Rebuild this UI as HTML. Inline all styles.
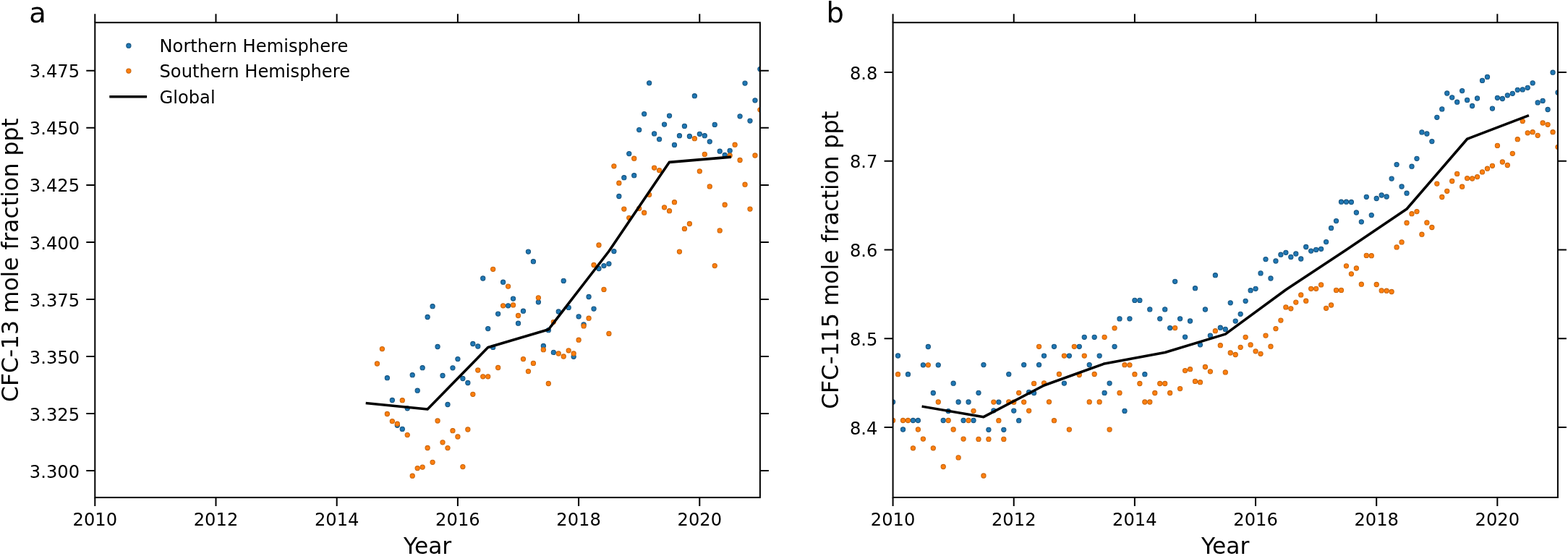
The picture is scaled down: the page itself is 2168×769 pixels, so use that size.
<!DOCTYPE html><html><head><meta charset="utf-8"><title>CFC-13 and CFC-115 mole fraction</title>
<style>html,body{margin:0;padding:0;background:#fff;}svg{display:block;}text{font-family:'DejaVu Sans', 'Liberation Sans', sans-serif;fill:#000;}</style></head><body>
<svg width="2168" height="769" viewBox="0 0 2168 769">
<rect x="0" y="0" width="2168" height="769" fill="#fff"/>
<defs>
<clipPath id="ca"><rect x="131.3" y="31.2" width="919.6" height="656.9"/></clipPath>
<clipPath id="cb"><rect x="1234.6" y="31.2" width="919.3" height="656.8"/></clipPath>
</defs>
<g clip-path="url(#ca)">
<g fill="#1f77b4" stroke="#17547f" stroke-width="1.1">
<circle cx="535.39" cy="522.7" r="3.1"/>
<circle cx="542.35" cy="553.5" r="3.1"/>
<circle cx="549.32" cy="588.3" r="3.1"/>
<circle cx="556.29" cy="593.4" r="3.1"/>
<circle cx="563.25" cy="564.8" r="3.1"/>
<circle cx="570.22" cy="518.7" r="3.1"/>
<circle cx="577.19" cy="540.2" r="3.1"/>
<circle cx="584.15" cy="508.7" r="3.1"/>
<circle cx="591.12" cy="438.5" r="3.1"/>
<circle cx="598.09" cy="423.7" r="3.1"/>
<circle cx="605.06" cy="479.5" r="3.1"/>
<circle cx="612.02" cy="519.5" r="3.1"/>
<circle cx="618.99" cy="559.5" r="3.1"/>
<circle cx="625.96" cy="508.8" r="3.1"/>
<circle cx="632.92" cy="496.6" r="3.1"/>
<circle cx="639.89" cy="523.5" r="3.1"/>
<circle cx="646.86" cy="529.5" r="3.1"/>
<circle cx="653.83" cy="475.5" r="3.1"/>
<circle cx="660.79" cy="479" r="3.1"/>
<circle cx="667.76" cy="385" r="3.1"/>
<circle cx="674.73" cy="454.6" r="3.1"/>
<circle cx="681.69" cy="480.4" r="3.1"/>
<circle cx="688.66" cy="434.1" r="3.1"/>
<circle cx="695.63" cy="390.2" r="3.1"/>
<circle cx="702.59" cy="422.8" r="3.1"/>
<circle cx="709.56" cy="413.1" r="3.1"/>
<circle cx="716.53" cy="447.2" r="3.1"/>
<circle cx="723.49" cy="430.2" r="3.1"/>
<circle cx="730.46" cy="348.1" r="3.1"/>
<circle cx="737.43" cy="361.7" r="3.1"/>
<circle cx="744.4" cy="417.8" r="3.1"/>
<circle cx="751.36" cy="478.5" r="3.1"/>
<circle cx="758.33" cy="456.7" r="3.1"/>
<circle cx="765.3" cy="487.4" r="3.1"/>
<circle cx="772.26" cy="431" r="3.1"/>
<circle cx="779.23" cy="388.4" r="3.1"/>
<circle cx="786.2" cy="425.4" r="3.1"/>
<circle cx="793.16" cy="493.3" r="3.1"/>
<circle cx="800.13" cy="437.8" r="3.1"/>
<circle cx="807.1" cy="448.9" r="3.1"/>
<circle cx="814.07" cy="410.5" r="3.1"/>
<circle cx="821.03" cy="427.1" r="3.1"/>
<circle cx="828" cy="371.5" r="3.1"/>
<circle cx="834.97" cy="367.6" r="3.1"/>
<circle cx="841.93" cy="364.8" r="3.1"/>
<circle cx="848.9" cy="347.6" r="3.1"/>
<circle cx="855.87" cy="271.5" r="3.1"/>
<circle cx="862.84" cy="245.7" r="3.1"/>
<circle cx="869.8" cy="212.6" r="3.1"/>
<circle cx="876.77" cy="242.7" r="3.1"/>
<circle cx="883.74" cy="179.6" r="3.1"/>
<circle cx="890.7" cy="157.6" r="3.1"/>
<circle cx="897.67" cy="114.8" r="3.1"/>
<circle cx="904.64" cy="184.9" r="3.1"/>
<circle cx="911.6" cy="192.6" r="3.1"/>
<circle cx="918.57" cy="172.1" r="3.1"/>
<circle cx="925.54" cy="160.1" r="3.1"/>
<circle cx="932.5" cy="200.4" r="3.1"/>
<circle cx="939.47" cy="187.7" r="3.1"/>
<circle cx="946.44" cy="174.4" r="3.1"/>
<circle cx="953.41" cy="188.5" r="3.1"/>
<circle cx="960.37" cy="132.7" r="3.1"/>
<circle cx="967.34" cy="185.3" r="3.1"/>
<circle cx="974.31" cy="187.7" r="3.1"/>
<circle cx="981.27" cy="195.8" r="3.1"/>
<circle cx="988.24" cy="172.4" r="3.1"/>
<circle cx="995.21" cy="209.2" r="3.1"/>
<circle cx="1002.17" cy="214.5" r="3.1"/>
<circle cx="1009.14" cy="208.4" r="3.1"/>
<circle cx="1023.08" cy="160.8" r="3.1"/>
<circle cx="1030.04" cy="115.1" r="3.1"/>
<circle cx="1037.01" cy="167.1" r="3.1"/>
<circle cx="1043.98" cy="138.8" r="3.1"/>
<circle cx="1050.94" cy="95.6" r="3.1"/>
</g><g fill="#ff7f0e" stroke="#c9650b" stroke-width="1.1">
<circle cx="521.45" cy="503" r="3.1"/>
<circle cx="528.42" cy="482.6" r="3.1"/>
<circle cx="535.39" cy="572.5" r="3.1"/>
<circle cx="542.35" cy="582.6" r="3.1"/>
<circle cx="549.32" cy="586.2" r="3.1"/>
<circle cx="556.29" cy="553.7" r="3.1"/>
<circle cx="563.25" cy="601.6" r="3.1"/>
<circle cx="570.22" cy="658.2" r="3.1"/>
<circle cx="577.19" cy="647.6" r="3.1"/>
<circle cx="584.15" cy="646.1" r="3.1"/>
<circle cx="591.12" cy="619.5" r="3.1"/>
<circle cx="598.09" cy="639.3" r="3.1"/>
<circle cx="605.06" cy="582" r="3.1"/>
<circle cx="612.02" cy="611.8" r="3.1"/>
<circle cx="618.99" cy="619.6" r="3.1"/>
<circle cx="625.96" cy="595.7" r="3.1"/>
<circle cx="632.92" cy="604" r="3.1"/>
<circle cx="639.89" cy="645.6" r="3.1"/>
<circle cx="646.86" cy="594" r="3.1"/>
<circle cx="653.83" cy="545.3" r="3.1"/>
<circle cx="660.79" cy="512" r="3.1"/>
<circle cx="667.76" cy="520.8" r="3.1"/>
<circle cx="674.73" cy="520.8" r="3.1"/>
<circle cx="681.69" cy="372.3" r="3.1"/>
<circle cx="688.66" cy="508.5" r="3.1"/>
<circle cx="695.63" cy="422.8" r="3.1"/>
<circle cx="702.59" cy="396.1" r="3.1"/>
<circle cx="709.56" cy="421.9" r="3.1"/>
<circle cx="716.53" cy="436.5" r="3.1"/>
<circle cx="723.49" cy="496.6" r="3.1"/>
<circle cx="730.46" cy="513.6" r="3.1"/>
<circle cx="737.43" cy="502.4" r="3.1"/>
<circle cx="744.4" cy="411.8" r="3.1"/>
<circle cx="751.36" cy="483.7" r="3.1"/>
<circle cx="758.33" cy="530.5" r="3.1"/>
<circle cx="765.3" cy="445.3" r="3.1"/>
<circle cx="772.26" cy="489" r="3.1"/>
<circle cx="779.23" cy="493" r="3.1"/>
<circle cx="786.2" cy="484.8" r="3.1"/>
<circle cx="793.16" cy="489" r="3.1"/>
<circle cx="800.13" cy="470.2" r="3.1"/>
<circle cx="807.1" cy="450.9" r="3.1"/>
<circle cx="814.07" cy="440.2" r="3.1"/>
<circle cx="821.03" cy="366.5" r="3.1"/>
<circle cx="828" cy="339" r="3.1"/>
<circle cx="834.97" cy="400.4" r="3.1"/>
<circle cx="841.93" cy="461.4" r="3.1"/>
<circle cx="848.9" cy="229.8" r="3.1"/>
<circle cx="855.87" cy="253.2" r="3.1"/>
<circle cx="862.84" cy="289.1" r="3.1"/>
<circle cx="869.8" cy="301.3" r="3.1"/>
<circle cx="876.77" cy="219.2" r="3.1"/>
<circle cx="883.74" cy="288.3" r="3.1"/>
<circle cx="890.7" cy="294.2" r="3.1"/>
<circle cx="897.67" cy="269.3" r="3.1"/>
<circle cx="904.64" cy="232.1" r="3.1"/>
<circle cx="911.6" cy="235.6" r="3.1"/>
<circle cx="918.57" cy="286.8" r="3.1"/>
<circle cx="925.54" cy="291.7" r="3.1"/>
<circle cx="932.5" cy="279.7" r="3.1"/>
<circle cx="939.47" cy="348.1" r="3.1"/>
<circle cx="946.44" cy="316.4" r="3.1"/>
<circle cx="953.41" cy="309.5" r="3.1"/>
<circle cx="960.37" cy="191.7" r="3.1"/>
<circle cx="967.34" cy="236.8" r="3.1"/>
<circle cx="974.31" cy="213.4" r="3.1"/>
<circle cx="981.27" cy="257.9" r="3.1"/>
<circle cx="988.24" cy="367.6" r="3.1"/>
<circle cx="995.21" cy="318.9" r="3.1"/>
<circle cx="1002.17" cy="283.2" r="3.1"/>
<circle cx="1009.14" cy="215" r="3.1"/>
<circle cx="1016.11" cy="200.2" r="3.1"/>
<circle cx="1023.08" cy="221.5" r="3.1"/>
<circle cx="1030.04" cy="255.2" r="3.1"/>
<circle cx="1037.01" cy="289.1" r="3.1"/>
<circle cx="1043.98" cy="215" r="3.1"/>
<circle cx="1050.94" cy="151.8" r="3.1"/>
</g>
<polyline points="507.5,557.7 591.1,566 674.7,480.6 758.3,455.8 841.9,347.5 925.3,224.4 1009.1,217.3" fill="none" stroke="#000" stroke-width="3.6" stroke-linecap="square" stroke-linejoin="round"/>
</g>
<rect x="131.3" y="31.2" width="919.6" height="656.9" fill="none" stroke="#000" stroke-width="2.0"/>
<path d="M131.3 688.1v12M131.3 31.2v-12M298.5 688.1v12M298.5 31.2v-12M465.7 688.1v12M465.7 31.2v-12M632.9 688.1v12M632.9 31.2v-12M800.1 688.1v12M800.1 31.2v-12M967.3 688.1v12M967.3 31.2v-12M131.3 97.8h-12M1050.9 97.8h12M131.3 176.84h-12M1050.9 176.84h12M131.3 255.88h-12M1050.9 255.88h12M131.3 334.92h-12M1050.9 334.92h12M131.3 413.96h-12M1050.9 413.96h12M131.3 493h-12M1050.9 493h12M131.3 572.04h-12M1050.9 572.04h12M131.3 651.08h-12M1050.9 651.08h12" stroke="#000" stroke-width="2.0" fill="none"/>
<text x="131.3" y="726.9" font-size="24.2" text-anchor="middle">2010</text>
<text x="298.5" y="726.9" font-size="24.2" text-anchor="middle">2012</text>
<text x="465.7" y="726.9" font-size="24.2" text-anchor="middle">2014</text>
<text x="632.9" y="726.9" font-size="24.2" text-anchor="middle">2016</text>
<text x="800.1" y="726.9" font-size="24.2" text-anchor="middle">2018</text>
<text x="967.3" y="726.9" font-size="24.2" text-anchor="middle">2020</text>
<text x="110.1" y="107.4" font-size="24.2" text-anchor="end">3.475</text>
<text x="110.1" y="186.44" font-size="24.2" text-anchor="end">3.450</text>
<text x="110.1" y="265.48" font-size="24.2" text-anchor="end">3.425</text>
<text x="110.1" y="344.52" font-size="24.2" text-anchor="end">3.400</text>
<text x="110.1" y="423.56" font-size="24.2" text-anchor="end">3.375</text>
<text x="110.1" y="502.6" font-size="24.2" text-anchor="end">3.350</text>
<text x="110.1" y="581.64" font-size="24.2" text-anchor="end">3.325</text>
<text x="110.1" y="660.68" font-size="24.2" text-anchor="end">3.300</text>
<text x="591.1" y="765.5" font-size="31.3" text-anchor="middle">Year</text>
<text x="24.7" y="359.65" font-size="31.3" text-anchor="middle" transform="rotate(-90 24.7 359.65)">CFC-13 mole fraction ppt</text>
<text x="40.3" y="31.25" font-size="38.5">a</text>
<g clip-path="url(#cb)">
<g fill="#1f77b4" stroke="#17547f" stroke-width="1.1">
<circle cx="1234.6" cy="556" r="3.1"/>
<circle cx="1241.56" cy="492" r="3.1"/>
<circle cx="1248.53" cy="594" r="3.1"/>
<circle cx="1255.49" cy="517.7" r="3.1"/>
<circle cx="1262.46" cy="581.5" r="3.1"/>
<circle cx="1269.42" cy="581.5" r="3.1"/>
<circle cx="1276.39" cy="504.8" r="3.1"/>
<circle cx="1283.36" cy="479.5" r="3.1"/>
<circle cx="1290.32" cy="543.5" r="3.1"/>
<circle cx="1297.28" cy="504.8" r="3.1"/>
<circle cx="1304.25" cy="581.5" r="3.1"/>
<circle cx="1311.21" cy="568.6" r="3.1"/>
<circle cx="1318.18" cy="530.2" r="3.1"/>
<circle cx="1325.14" cy="556" r="3.1"/>
<circle cx="1332.11" cy="581.5" r="3.1"/>
<circle cx="1339.07" cy="556" r="3.1"/>
<circle cx="1346.04" cy="581.5" r="3.1"/>
<circle cx="1353" cy="543.3" r="3.1"/>
<circle cx="1359.97" cy="504.6" r="3.1"/>
<circle cx="1366.93" cy="594.3" r="3.1"/>
<circle cx="1373.9" cy="567.8" r="3.1"/>
<circle cx="1380.86" cy="556.1" r="3.1"/>
<circle cx="1387.83" cy="594.3" r="3.1"/>
<circle cx="1394.79" cy="517.6" r="3.1"/>
<circle cx="1401.76" cy="568.1" r="3.1"/>
<circle cx="1408.72" cy="581.7" r="3.1"/>
<circle cx="1415.69" cy="504.6" r="3.1"/>
<circle cx="1422.65" cy="542.4" r="3.1"/>
<circle cx="1429.62" cy="543.6" r="3.1"/>
<circle cx="1436.58" cy="504.6" r="3.1"/>
<circle cx="1443.55" cy="492.1" r="3.1"/>
<circle cx="1457.48" cy="479.3" r="3.1"/>
<circle cx="1471.41" cy="530.1" r="3.1"/>
<circle cx="1478.38" cy="492.1" r="3.1"/>
<circle cx="1492.3" cy="479.3" r="3.1"/>
<circle cx="1499.27" cy="466.3" r="3.1"/>
<circle cx="1506.23" cy="504.6" r="3.1"/>
<circle cx="1513.2" cy="466.3" r="3.1"/>
<circle cx="1520.16" cy="492.1" r="3.1"/>
<circle cx="1527.13" cy="543.4" r="3.1"/>
<circle cx="1534.09" cy="530.1" r="3.1"/>
<circle cx="1541.06" cy="479.3" r="3.1"/>
<circle cx="1548.02" cy="440.9" r="3.1"/>
<circle cx="1554.99" cy="568.4" r="3.1"/>
<circle cx="1561.95" cy="440.8" r="3.1"/>
<circle cx="1568.92" cy="415.4" r="3.1"/>
<circle cx="1575.88" cy="415.4" r="3.1"/>
<circle cx="1582.85" cy="517.7" r="3.1"/>
<circle cx="1589.81" cy="427.9" r="3.1"/>
<circle cx="1603.74" cy="440.8" r="3.1"/>
<circle cx="1610.71" cy="427.9" r="3.1"/>
<circle cx="1617.67" cy="453.6" r="3.1"/>
<circle cx="1624.64" cy="389.3" r="3.1"/>
<circle cx="1631.61" cy="440.8" r="3.1"/>
<circle cx="1638.57" cy="466.1" r="3.1"/>
<circle cx="1645.53" cy="444" r="3.1"/>
<circle cx="1652.5" cy="398.7" r="3.1"/>
<circle cx="1659.46" cy="476.8" r="3.1"/>
<circle cx="1666.43" cy="428" r="3.1"/>
<circle cx="1673.39" cy="464.1" r="3.1"/>
<circle cx="1680.36" cy="380.7" r="3.1"/>
<circle cx="1687.32" cy="453.2" r="3.1"/>
<circle cx="1694.29" cy="455.4" r="3.1"/>
<circle cx="1701.25" cy="418.8" r="3.1"/>
<circle cx="1708.22" cy="444.1" r="3.1"/>
<circle cx="1715.18" cy="434.3" r="3.1"/>
<circle cx="1722.15" cy="416.3" r="3.1"/>
<circle cx="1729.11" cy="401.7" r="3.1"/>
<circle cx="1736.08" cy="399.3" r="3.1"/>
<circle cx="1743.04" cy="377.9" r="3.1"/>
<circle cx="1750.01" cy="358.6" r="3.1"/>
<circle cx="1756.97" cy="385" r="3.1"/>
<circle cx="1763.94" cy="361" r="3.1"/>
<circle cx="1770.9" cy="352.2" r="3.1"/>
<circle cx="1777.87" cy="349.3" r="3.1"/>
<circle cx="1784.84" cy="355.4" r="3.1"/>
<circle cx="1791.8" cy="351" r="3.1"/>
<circle cx="1798.76" cy="358" r="3.1"/>
<circle cx="1805.73" cy="341.5" r="3.1"/>
<circle cx="1812.69" cy="347.1" r="3.1"/>
<circle cx="1819.66" cy="345.4" r="3.1"/>
<circle cx="1826.62" cy="344.3" r="3.1"/>
<circle cx="1833.59" cy="334.6" r="3.1"/>
<circle cx="1840.55" cy="315.4" r="3.1"/>
<circle cx="1847.52" cy="305.6" r="3.1"/>
<circle cx="1854.48" cy="279.2" r="3.1"/>
<circle cx="1861.45" cy="279.2" r="3.1"/>
<circle cx="1868.41" cy="279.5" r="3.1"/>
<circle cx="1875.38" cy="294" r="3.1"/>
<circle cx="1882.34" cy="306.8" r="3.1"/>
<circle cx="1889.31" cy="272.3" r="3.1"/>
<circle cx="1896.27" cy="297.6" r="3.1"/>
<circle cx="1903.24" cy="274.5" r="3.1"/>
<circle cx="1910.2" cy="270" r="3.1"/>
<circle cx="1917.17" cy="272" r="3.1"/>
<circle cx="1924.13" cy="247.1" r="3.1"/>
<circle cx="1931.1" cy="227.6" r="3.1"/>
<circle cx="1938.07" cy="258" r="3.1"/>
<circle cx="1945.03" cy="267.2" r="3.1"/>
<circle cx="1951.99" cy="230.2" r="3.1"/>
<circle cx="1958.96" cy="219.3" r="3.1"/>
<circle cx="1965.92" cy="182.9" r="3.1"/>
<circle cx="1972.89" cy="185" r="3.1"/>
<circle cx="1979.86" cy="195.6" r="3.1"/>
<circle cx="1986.82" cy="162.3" r="3.1"/>
<circle cx="1993.78" cy="150.9" r="3.1"/>
<circle cx="2000.75" cy="129" r="3.1"/>
<circle cx="2007.71" cy="134.8" r="3.1"/>
<circle cx="2014.68" cy="141.2" r="3.1"/>
<circle cx="2021.64" cy="125.6" r="3.1"/>
<circle cx="2028.61" cy="138.4" r="3.1"/>
<circle cx="2035.57" cy="146.5" r="3.1"/>
<circle cx="2042.54" cy="136" r="3.1"/>
<circle cx="2049.51" cy="111.4" r="3.1"/>
<circle cx="2056.47" cy="106.4" r="3.1"/>
<circle cx="2063.43" cy="150.1" r="3.1"/>
<circle cx="2070.4" cy="135.3" r="3.1"/>
<circle cx="2077.36" cy="136.5" r="3.1"/>
<circle cx="2084.33" cy="131.8" r="3.1"/>
<circle cx="2091.3" cy="129.3" r="3.1"/>
<circle cx="2098.26" cy="124.3" r="3.1"/>
<circle cx="2105.22" cy="123.9" r="3.1"/>
<circle cx="2112.19" cy="121.3" r="3.1"/>
<circle cx="2119.15" cy="114.8" r="3.1"/>
<circle cx="2126.12" cy="141.9" r="3.1"/>
<circle cx="2133.09" cy="139.4" r="3.1"/>
<circle cx="2140.05" cy="151.5" r="3.1"/>
<circle cx="2147.01" cy="100.2" r="3.1"/>
<circle cx="2153.98" cy="127.9" r="3.1"/>
</g><g fill="#ff7f0e" stroke="#c9650b" stroke-width="1.1">
<circle cx="1234.6" cy="581.5" r="3.1"/>
<circle cx="1241.56" cy="517.7" r="3.1"/>
<circle cx="1248.53" cy="581.5" r="3.1"/>
<circle cx="1255.49" cy="581.5" r="3.1"/>
<circle cx="1262.46" cy="619.8" r="3.1"/>
<circle cx="1269.42" cy="594" r="3.1"/>
<circle cx="1276.39" cy="607.1" r="3.1"/>
<circle cx="1283.36" cy="504.8" r="3.1"/>
<circle cx="1290.32" cy="619.8" r="3.1"/>
<circle cx="1297.28" cy="556" r="3.1"/>
<circle cx="1304.25" cy="645.5" r="3.1"/>
<circle cx="1311.21" cy="581.5" r="3.1"/>
<circle cx="1318.18" cy="594" r="3.1"/>
<circle cx="1325.14" cy="632.9" r="3.1"/>
<circle cx="1332.11" cy="607.1" r="3.1"/>
<circle cx="1339.07" cy="581.5" r="3.1"/>
<circle cx="1346.04" cy="568.3" r="3.1"/>
<circle cx="1353" cy="607.4" r="3.1"/>
<circle cx="1359.97" cy="658" r="3.1"/>
<circle cx="1366.93" cy="607.4" r="3.1"/>
<circle cx="1373.9" cy="556.1" r="3.1"/>
<circle cx="1380.86" cy="581.7" r="3.1"/>
<circle cx="1387.83" cy="607.4" r="3.1"/>
<circle cx="1394.79" cy="555.8" r="3.1"/>
<circle cx="1401.76" cy="556.2" r="3.1"/>
<circle cx="1408.72" cy="543.3" r="3.1"/>
<circle cx="1415.69" cy="556.1" r="3.1"/>
<circle cx="1422.65" cy="568.1" r="3.1"/>
<circle cx="1429.62" cy="530.4" r="3.1"/>
<circle cx="1436.58" cy="479.3" r="3.1"/>
<circle cx="1443.55" cy="529.9" r="3.1"/>
<circle cx="1450.51" cy="555.8" r="3.1"/>
<circle cx="1457.48" cy="581.7" r="3.1"/>
<circle cx="1464.44" cy="517.5" r="3.1"/>
<circle cx="1471.41" cy="492.1" r="3.1"/>
<circle cx="1478.38" cy="594.1" r="3.1"/>
<circle cx="1485.34" cy="479.3" r="3.1"/>
<circle cx="1492.3" cy="518.5" r="3.1"/>
<circle cx="1499.27" cy="492.1" r="3.1"/>
<circle cx="1506.23" cy="555.9" r="3.1"/>
<circle cx="1513.2" cy="517.5" r="3.1"/>
<circle cx="1520.16" cy="555.9" r="3.1"/>
<circle cx="1527.13" cy="466.3" r="3.1"/>
<circle cx="1534.09" cy="594.1" r="3.1"/>
<circle cx="1541.06" cy="453.8" r="3.1"/>
<circle cx="1548.02" cy="543.4" r="3.1"/>
<circle cx="1554.99" cy="504.7" r="3.1"/>
<circle cx="1561.95" cy="504.8" r="3.1"/>
<circle cx="1568.92" cy="517.7" r="3.1"/>
<circle cx="1575.88" cy="530.5" r="3.1"/>
<circle cx="1582.85" cy="556" r="3.1"/>
<circle cx="1589.81" cy="556" r="3.1"/>
<circle cx="1596.78" cy="543.5" r="3.1"/>
<circle cx="1603.74" cy="530.5" r="3.1"/>
<circle cx="1610.71" cy="530.5" r="3.1"/>
<circle cx="1617.67" cy="543.5" r="3.1"/>
<circle cx="1624.64" cy="453.6" r="3.1"/>
<circle cx="1631.61" cy="537.6" r="3.1"/>
<circle cx="1638.57" cy="512.6" r="3.1"/>
<circle cx="1645.53" cy="510.7" r="3.1"/>
<circle cx="1652.5" cy="527.4" r="3.1"/>
<circle cx="1659.46" cy="528.7" r="3.1"/>
<circle cx="1666.43" cy="507.5" r="3.1"/>
<circle cx="1673.39" cy="513.8" r="3.1"/>
<circle cx="1680.36" cy="457.7" r="3.1"/>
<circle cx="1687.32" cy="477.7" r="3.1"/>
<circle cx="1694.29" cy="514.9" r="3.1"/>
<circle cx="1701.25" cy="488" r="3.1"/>
<circle cx="1708.22" cy="490.5" r="3.1"/>
<circle cx="1715.18" cy="480.3" r="3.1"/>
<circle cx="1722.15" cy="466.3" r="3.1"/>
<circle cx="1729.11" cy="476.9" r="3.1"/>
<circle cx="1736.08" cy="485.8" r="3.1"/>
<circle cx="1743.04" cy="489.3" r="3.1"/>
<circle cx="1750.01" cy="464.1" r="3.1"/>
<circle cx="1756.97" cy="479.2" r="3.1"/>
<circle cx="1763.94" cy="454.6" r="3.1"/>
<circle cx="1770.9" cy="443.1" r="3.1"/>
<circle cx="1777.87" cy="424.9" r="3.1"/>
<circle cx="1784.84" cy="426.8" r="3.1"/>
<circle cx="1791.8" cy="418.1" r="3.1"/>
<circle cx="1798.76" cy="407.9" r="3.1"/>
<circle cx="1805.73" cy="416.2" r="3.1"/>
<circle cx="1812.69" cy="399.3" r="3.1"/>
<circle cx="1819.66" cy="399.3" r="3.1"/>
<circle cx="1826.62" cy="393.9" r="3.1"/>
<circle cx="1833.59" cy="426.3" r="3.1"/>
<circle cx="1840.55" cy="422" r="3.1"/>
<circle cx="1847.52" cy="401.4" r="3.1"/>
<circle cx="1854.48" cy="401.4" r="3.1"/>
<circle cx="1861.45" cy="367.8" r="3.1"/>
<circle cx="1868.41" cy="378.8" r="3.1"/>
<circle cx="1875.38" cy="371" r="3.1"/>
<circle cx="1882.34" cy="393.2" r="3.1"/>
<circle cx="1889.31" cy="353.4" r="3.1"/>
<circle cx="1896.27" cy="353.7" r="3.1"/>
<circle cx="1903.24" cy="393.5" r="3.1"/>
<circle cx="1910.2" cy="401.9" r="3.1"/>
<circle cx="1917.17" cy="402.2" r="3.1"/>
<circle cx="1924.13" cy="403.5" r="3.1"/>
<circle cx="1931.1" cy="341.9" r="3.1"/>
<circle cx="1938.07" cy="334.9" r="3.1"/>
<circle cx="1945.03" cy="308.2" r="3.1"/>
<circle cx="1951.99" cy="295.7" r="3.1"/>
<circle cx="1958.96" cy="292.6" r="3.1"/>
<circle cx="1965.92" cy="324.2" r="3.1"/>
<circle cx="1972.89" cy="307.9" r="3.1"/>
<circle cx="1979.86" cy="314.5" r="3.1"/>
<circle cx="1986.82" cy="254.1" r="3.1"/>
<circle cx="1993.78" cy="272.5" r="3.1"/>
<circle cx="2000.75" cy="264.3" r="3.1"/>
<circle cx="2007.71" cy="250.5" r="3.1"/>
<circle cx="2014.68" cy="240.4" r="3.1"/>
<circle cx="2021.64" cy="258.2" r="3.1"/>
<circle cx="2028.61" cy="246.6" r="3.1"/>
<circle cx="2035.57" cy="247" r="3.1"/>
<circle cx="2042.54" cy="244.6" r="3.1"/>
<circle cx="2049.51" cy="237.9" r="3.1"/>
<circle cx="2056.47" cy="233.2" r="3.1"/>
<circle cx="2063.43" cy="229.3" r="3.1"/>
<circle cx="2070.4" cy="201.4" r="3.1"/>
<circle cx="2077.36" cy="224" r="3.1"/>
<circle cx="2084.33" cy="228.5" r="3.1"/>
<circle cx="2091.3" cy="212.3" r="3.1"/>
<circle cx="2098.26" cy="192.7" r="3.1"/>
<circle cx="2105.22" cy="167.6" r="3.1"/>
<circle cx="2112.19" cy="183.8" r="3.1"/>
<circle cx="2119.15" cy="182.7" r="3.1"/>
<circle cx="2126.12" cy="187.3" r="3.1"/>
<circle cx="2133.09" cy="170" r="3.1"/>
<circle cx="2140.05" cy="172.3" r="3.1"/>
<circle cx="2147.01" cy="182.7" r="3.1"/>
<circle cx="2153.98" cy="203.3" r="3.1"/>
</g>
<polyline points="1276.4,562.4 1360,576.7 1443.6,533 1527.1,502.9 1610.7,487.5 1694.3,462.1 1777.9,400.7 1861.5,345.5 1945.1,289 2028.6,192.2 2112.2,160.2" fill="none" stroke="#000" stroke-width="3.6" stroke-linecap="square" stroke-linejoin="round"/>
</g>
<rect x="1234.6" y="31.2" width="919.3" height="656.8" fill="none" stroke="#000" stroke-width="2.0"/>
<path d="M1234.6 688v12M1234.6 31.2v-12M1401.75 688v12M1401.75 31.2v-12M1568.89 688v12M1568.89 31.2v-12M1736.04 688v12M1736.04 31.2v-12M1903.18 688v12M1903.18 31.2v-12M2070.33 688v12M2070.33 31.2v-12M1234.6 99.95h-12M2153.9 99.95h12M1234.6 222.71h-12M2153.9 222.71h12M1234.6 345.47h-12M2153.9 345.47h12M1234.6 468.23h-12M2153.9 468.23h12M1234.6 590.99h-12M2153.9 590.99h12" stroke="#000" stroke-width="2.0" fill="none"/>
<text x="1234.6" y="726.9" font-size="24.2" text-anchor="middle">2010</text>
<text x="1401.75" y="726.9" font-size="24.2" text-anchor="middle">2012</text>
<text x="1568.89" y="726.9" font-size="24.2" text-anchor="middle">2014</text>
<text x="1736.04" y="726.9" font-size="24.2" text-anchor="middle">2016</text>
<text x="1903.18" y="726.9" font-size="24.2" text-anchor="middle">2018</text>
<text x="2070.33" y="726.9" font-size="24.2" text-anchor="middle">2020</text>
<text x="1213.4" y="109.55" font-size="24.2" text-anchor="end">8.8</text>
<text x="1213.4" y="232.31" font-size="24.2" text-anchor="end">8.7</text>
<text x="1213.4" y="355.07" font-size="24.2" text-anchor="end">8.6</text>
<text x="1213.4" y="477.83" font-size="24.2" text-anchor="end">8.5</text>
<text x="1213.4" y="600.59" font-size="24.2" text-anchor="end">8.4</text>
<text x="1694.25" y="765.5" font-size="31.3" text-anchor="middle">Year</text>
<text x="1158.8" y="359.6" font-size="31.3" text-anchor="middle" transform="rotate(-90 1158.8 359.6)">CFC-115 mole fraction ppt</text>
<text x="1142.5" y="31.25" font-size="38.5">b</text>
<circle cx="177.9" cy="63.2" r="3.1" fill="#1f77b4" stroke="#17547f" stroke-width="1.1"/>
<circle cx="177.9" cy="98.1" r="3.1" fill="#ff7f0e" stroke="#c9650b" stroke-width="1.1"/>
<path d="M153.1 133.8H201.3" stroke="#000" stroke-width="3.6" stroke-linecap="square"/>
<text x="220.5" y="71.6" font-size="24.2">Northern Hemisphere</text>
<text x="220.5" y="107" font-size="24.2">Southern Hemisphere</text>
<text x="220.5" y="142.5" font-size="24.2">Global</text>
</svg></body></html>
